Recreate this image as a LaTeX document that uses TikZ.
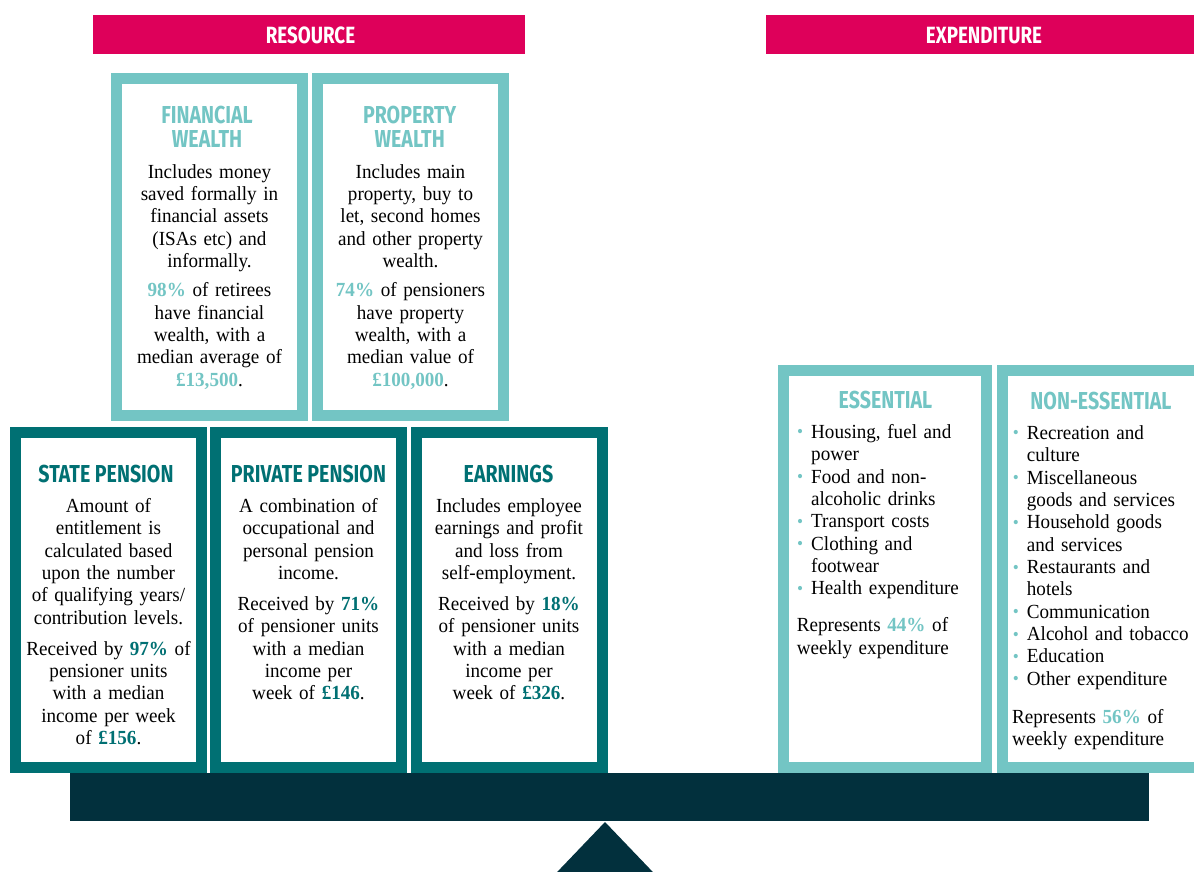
\documentclass[tikz,border=0pt]{standalone}
\usepackage{fontspec}
\newfontfamily\serif[FakeStretch=0.955]{Liberation Serif}
\newfontfamily\hdr[FakeStretch=0.8]{Fira Sans}
\definecolor{mag}{HTML}{DE005A}
\definecolor{lt}{HTML}{73C5C4}
\definecolor{dk}{HTML}{007073}
\definecolor{barc}{HTML}{02303D}
\newcommand\bodyfont{\serif\fontsize{20}{22.35}\selectfont}
\newcommand\hl[2]{\textbf{\textcolor{#1}{#2}}}
\newcommand\bul{\makebox[14pt][l]{\raisebox{0.5pt}{\textcolor{lt}{\fontsize{18}{18}\selectfont\textbullet}}}}
\newcommand\ind{\hspace*{14pt}}
\begin{document}
\begin{tikzpicture}[x=1pt,y=-1pt,
  ltbox/.style={draw=lt, fill=white, line width=11pt, rectangle, inner sep=0pt},
  dkbox/.style={draw=dk, fill=white, line width=11pt, rectangle, inner sep=0pt},
  banner/.style={fill=mag, inner sep=0pt, minimum height=39pt},
  bantxt/.style={text=white, font=\hdr\bfseries\fontsize{23.5}{23.5}\selectfont, anchor=base, inner sep=0pt},
  ttl/.style={font=\hdr\bfseries\fontsize{24.5}{24.5}\selectfont, anchor=base, inner sep=0pt},
  body/.style={font=\bodyfont, align=center, text width=220pt, inner sep=0pt, anchor=north},
  lst/.style={font=\bodyfont, align=left, text width=200pt, inner sep=0pt, anchor=north west}]
\useasboundingbox (0,0) rectangle (1194,872);
\clip (0,0) rectangle (1194,872);
\fill[white] (0,0) rectangle (1194,872);
% banners
\node[banner, minimum width=432pt] (res) at (309,34.5) {};
\node[bantxt] (restxt) at (310.5,43.3) {RESOURCE};
\node[banner, minimum width=440pt] (exp) at (986,34.5) {};
\node[bantxt] (exptxt) at (984,43.3) {EXPENDITURE};
% top boxes
\node[ltbox, minimum width=186pt, minimum height=337pt] (fin) at (209.5,247) {};
\node[ltbox, minimum width=186pt, minimum height=337pt] (prop) at (410.5,247) {};
\node[ttl, text=lt] (fint1) at (207,124) {FINANCIAL};
\node[ttl, text=lt] (fint2) at (207,148) {WEALTH};
\node[ttl, text=lt] (propt1) at (409.7,124) {PROPERTY};
\node[ttl, text=lt] (propt2) at (409.7,148) {WEALTH};
\node[body] (finb) at (209.5,162.35) {\strut Includes money\\saved formally in\\financial assets\\(ISAs etc) and\\informally.\\[7pt]\hl{lt}{98\%} of retirees\\have financial\\wealth, with a\\median average of\\\hl{lt}{£13,500}.};
\node[body] (propb) at (410.5,162.35) {\strut Includes main\\property, buy to\\let, second homes\\and other property\\wealth.\\[7pt]\hl{lt}{74\%} of pensioners\\have property\\wealth, with a\\median value of\\\hl{lt}{£100,000}.};
% bottom boxes
\node[dkbox, minimum width=185.5pt, minimum height=335pt] (state) at (108.5,600) {};
\node[dkbox, minimum width=186pt, minimum height=335pt] (priv) at (308.5,600) {};
\node[dkbox, minimum width=186pt, minimum height=335pt] (earn) at (509.5,600) {};
\node[ttl, text=dk] (statet) at (106,482) {STATE PENSION};
\node[ttl, text=dk] (privt) at (308.5,482) {PRIVATE PENSION};
\node[ttl, text=dk] (earnt) at (508.5,482) {EARNINGS};
\node[body] (stateb) at (108.5,496.6) {\strut Amount of\\entitlement is\\calculated based\\upon the number\\of qualifying years/\\contribution levels.\\[8.5pt]Received by \hl{dk}{97\%} of\\pensioner units\\with a median\\income per week\\of \hl{dk}{£156}.};
\node[body] (privb) at (308.5,496.6) {\strut A combination of\\occupational and\\personal pension\\income.\\[8.5pt]Received by \hl{dk}{71\%}\\of pensioner units\\with a median\\income per\\week of \hl{dk}{£146}.};
\node[body] (earnb) at (509,496.6) {\strut Includes employee\\earnings and profit\\and loss from\\self-employment.\\[8.5pt]Received by \hl{dk}{18\%}\\of pensioner units\\with a median\\income per\\week of \hl{dk}{£326}.};
% expenditure boxes
\node[ltbox, minimum width=203pt, minimum height=397pt] (ess) at (885,569) {};
\node[ltbox, minimum width=208pt, minimum height=397pt] (non) at (1106,569) {};
\node[ttl, text=lt] (esst) at (885.5,408) {ESSENTIAL};
\node[ttl, text=lt] (nont) at (1101,409) {NON-ESSENTIAL};
\node[lst] (essl) at (797,422.65) {\strut\bul Housing, fuel and\\\ind power\\\bul Food and non-\\\ind alcoholic drinks\\\bul Transport costs\\\bul Clothing and\\\ind footwear\\\bul Health expenditure};
\node[lst] (essr) at (796.7,616) {\strut Represents \hl{lt}{44\%} of\\weekly expenditure};
\node[lst] (nonl) at (1012.7,423.65) {\strut\bul Recreation and\\\ind culture\\\bul Miscellaneous\\\ind goods and services\\\bul Household goods\\\ind and services\\\bul Restaurants and\\\ind hotels\\\bul Communication\\\bul Alcohol and tobacco\\\bul Education\\\bul Other expenditure};
\node[lst] (nonr) at (1012,707.7) {\strut Represents \hl{lt}{56\%} of\\weekly expenditure};
% balance beam and pivot
\node[fill=barc, inner sep=0pt, minimum width=1079pt, minimum height=48pt] (beam) at (609.5,797) {};
\coordinate (apex) at (605,822);
\fill[barc] (apex) -- (549.5,880) -- (660.5,880) -- cycle;
\end{tikzpicture}
\end{document}
